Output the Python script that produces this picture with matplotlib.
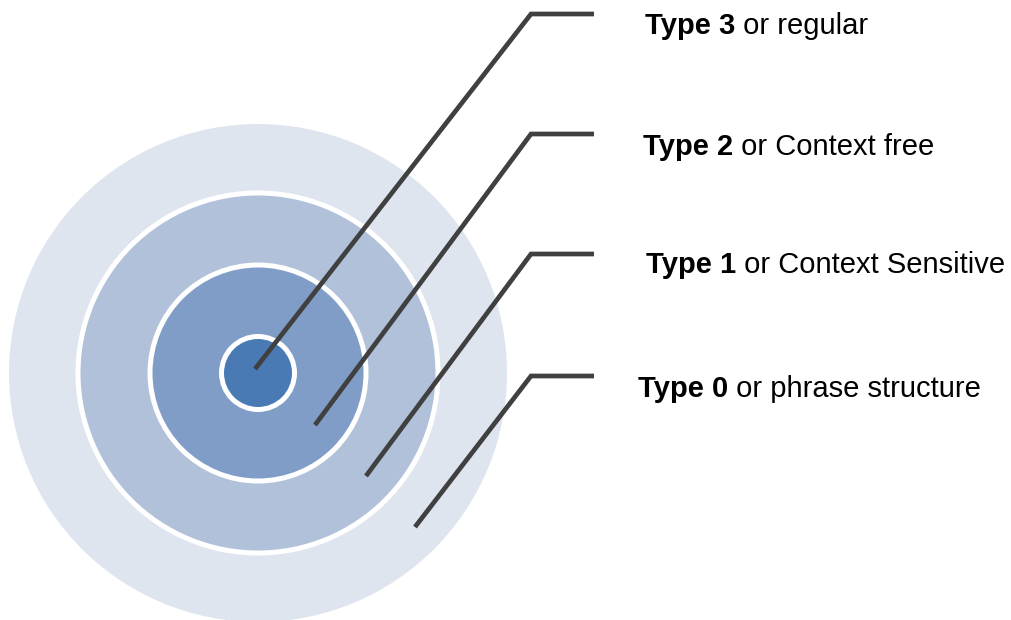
import matplotlib.pyplot as plt
from matplotlib.patches import Circle

# Chomsky hierarchy, innermost ring first
types = ['Type 3', 'Type 2', 'Type 1', 'Type 0']
names = ['regular', 'Context free', 'Context Sensitive', 'phrase structure']
radii = [36.5, 108, 180, 249]
colors = ['#4A7AB4', '#7F9DC6', '#B1C1DA', '#DFE5EF']

# leader lines (pixel coords, y down): start inside ring, elbow, end
starts = [(255, 369), (315, 425), (366, 476), (415, 527)]
elbow_y = [14, 134, 254, 376]
label_pos = [(645, 34), (643, 155), (646, 273), (638, 397)]

W, H, DPI = 1011, 620, 100
PX = 72 / DPI  # points per pixel

def main():
    plt.rcParams['font.family'] = ['Liberation Sans', 'DejaVu Sans']

    fig = plt.figure(figsize=(W / DPI, H / DPI), dpi=DPI)
    ax = fig.add_axes([0, 0, 1, 1])
    ax.set_xlim(0, W)
    ax.set_ylim(H, 0)
    ax.axis('off')

    cx, cy = 258, 373
    # biggest first so the smaller rings sit on top
    for i in range(len(radii) - 1, -1, -1):
        edge = 'none' if i == len(radii) - 1 else 'white'
        ax.add_patch(Circle((cx, cy), radii[i], facecolor=colors[i],
                            edgecolor=edge, linewidth=5 * PX, zorder=1))

    for (sx, sy), ey in zip(starts, elbow_y):
        ax.plot([sx, 531, 594], [sy, ey, ey], color='#404040',
                linewidth=4.7 * PX, solid_capstyle='butt',
                solid_joinstyle='miter', zorder=3)

    for t, n, (lx, ly) in zip(types, names, label_pos):
        bold = ax.text(lx, ly, t, fontsize=21, fontweight='bold',
                       va='baseline', ha='left')
        ax.annotate(' or ' + n, xy=(1, 0), xycoords=bold, fontsize=21,
                    va='bottom', ha='left')

    fig.savefig('out.png', dpi=DPI)

if __name__ == "__main__":
    main()
